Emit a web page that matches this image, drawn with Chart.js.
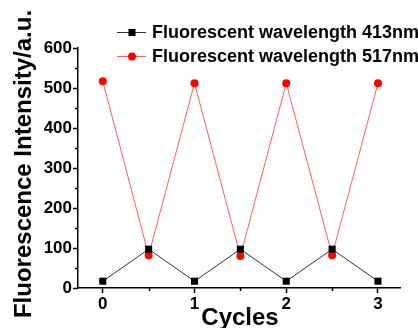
<!DOCTYPE html>
<html>
<head>
<meta charset="utf-8">
<script src="https://cdn.jsdelivr.net/npm/chart.js@4"></script>
<style>
  html, body { margin: 0; padding: 0; background: #fff; }
  #wrap { width: 418px; height: 328px; }
</style>
</head>
<body>
<div id="wrap"><canvas id="chart"></canvas></div>
<script>
const cycles = [0, 0.5, 1, 1.5, 2, 2.5, 3]
const intensity413 = [17, 97, 17, 97, 17, 97, 17]
const intensity517 = [517, 82, 512, 80, 512, 82, 512]
const seriesNames = ['Fluorescent wavelength 413nm', 'Fluorescent wavelength 517nm']
const xMinorTicks = [0.5, 1.5, 2.5]
const yMinorTicks = [50, 150, 250, 350, 450, 550]

const fuente = 'Arial, "Liberation Sans", sans-serif'

// ticks menores, leyenda y titulos de ejes
const extras = {
  id: 'extras',
  afterDraw(chart) {
    const ctx = chart.ctx
    const x = chart.scales.x
    const y = chart.scales.y
    const area = chart.chartArea
    ctx.save()
    ctx.strokeStyle = '#000'
    ctx.lineWidth = 1.5
    xMinorTicks.forEach(v => {
      const px = Math.round(x.getPixelForValue(v)) + 0.5
      ctx.beginPath()
      ctx.moveTo(px, area.bottom)
      ctx.lineTo(px, area.bottom + 3)
      ctx.stroke()
    })
    yMinorTicks.forEach(v => {
      const py = Math.round(y.getPixelForValue(v)) + 0.5
      ctx.beginPath()
      ctx.moveTo(area.left, py)
      ctx.lineTo(area.left - 3, py)
      ctx.stroke()
    })

    // leyenda
    chart.data.datasets.forEach((ds, i) => {
      const ly = 32 + i * 24
      ctx.strokeStyle = ds.borderColor
      ctx.lineWidth = 1
      ctx.beginPath()
      ctx.moveTo(117, ly + 0.5)
      ctx.lineTo(146, ly + 0.5)
      ctx.stroke()
      ctx.fillStyle = ds.pointBackgroundColor
      Chart.helpers.drawPoint(ctx, {pointStyle: ds.pointStyle, radius: ds.pointRadius, borderWidth: 0}, 132, ly + 0.5)
      ctx.fillStyle = '#000'
      ctx.font = 'bold 18px ' + fuente
      ctx.textAlign = 'left'
      ctx.textBaseline = 'middle'
      ctx.fillText(ds.label, 152, ly + 1)
    })

    // titulos
    ctx.fillStyle = '#000'
    ctx.font = 'bold 24px ' + fuente
    ctx.textAlign = 'center'
    ctx.textBaseline = 'alphabetic'
    ctx.fillText('Cycles', 240, 325)
    ctx.save()
    ctx.translate(31, 164)
    ctx.rotate(-Math.PI / 2)
    ctx.fillText('Fluorescence Intensity/a.u.', 0, 0)
    ctx.restore()
    ctx.restore()
  }
}

new Chart(document.getElementById('chart'), {
  type: 'line',
  data: {
    datasets: [{
      label: seriesNames[0],
      data: cycles.map((c, i) => ({x: c, y: intensity413[i]})),
      borderColor: '#333',
      borderWidth: 1,
      pointStyle: 'rect',
      pointRadius: 5,
      pointBorderWidth: 0,
      pointBackgroundColor: '#000'
    }, {
      label: seriesNames[1],
      data: cycles.map((c, i) => ({x: c, y: intensity517[i]})),
      borderColor: '#ff6060',
      borderWidth: 1,
      pointStyle: 'circle',
      pointRadius: 4,
      pointBorderWidth: 0,
      pointBackgroundColor: '#ff0000'
    }]
  },
  options: {
    responsive: true,
    maintainAspectRatio: false,
    animation: false,
    layout: {padding: {left: 0, right: 18, top: 48, bottom: 0}},
    plugins: {legend: {display: false}, tooltip: {enabled: false}},
    scales: {
      x: {
        type: 'linear',
        min: -0.27,
        max: 3.24,
        afterFit: s => { s.height = 40 },
        border: {display: true, color: '#000', width: 1.5},
        grid: {drawOnChartArea: false, color: '#000', tickLength: 5, tickWidth: 1.5},
        ticks: {
          stepSize: 1,
          includeBounds: false,
          color: '#000',
          padding: 1,
          maxRotation: 0,
          font: {family: fuente, size: 17, weight: 'bold'}
        }
      },
      y: {
        min: 0,
        max: 600,
        afterFit: s => { s.width = 78 },
        border: {display: true, color: '#000', width: 1.5},
        grid: {drawOnChartArea: false, color: '#000', tickLength: 5, tickWidth: 1.5},
        ticks: {
          stepSize: 100,
          color: '#000',
          padding: 1,
          font: {family: fuente, size: 17, weight: 'bold'}
        }
      }
    }
  },
  plugins: [extras]
})
</script>
</body>
</html>
